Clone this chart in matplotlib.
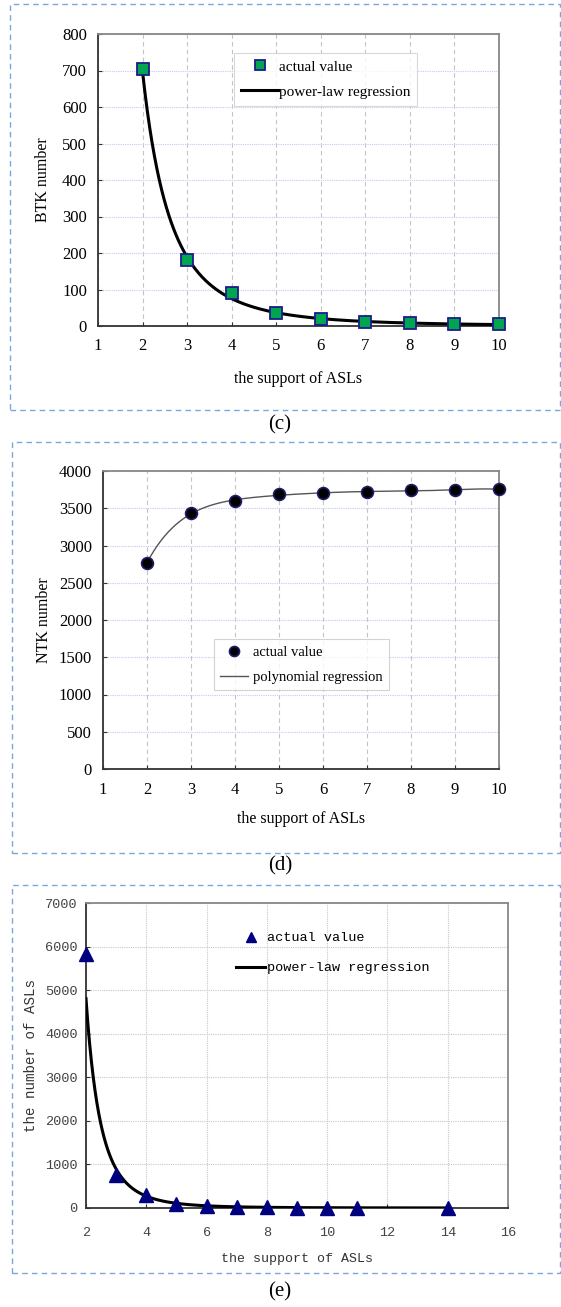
import numpy as np
import matplotlib
matplotlib.use("Agg")
import matplotlib.pyplot as plt
from matplotlib.patches import Rectangle

# (c) BTK number vs support
support_c = [2, 3, 4, 5, 6, 7, 8, 9, 10]
btk = [705, 180, 90, 35, 20, 10, 8, 5, 5]

# (d) NTK number vs support
support_d = [2, 3, 4, 5, 6, 7, 8, 9, 10]
ntk = [2770, 3430, 3600, 3690, 3700, 3720, 3740, 3745, 3755]

# (e) number of ASLs vs support
support_e = [2, 3, 4, 5, 6, 7, 8, 9, 10, 11, 14]
n_asls = [5820, 750, 300, 100, 50, 20, 15, 9, 7, 5, 1.5]

SERIF = "Liberation Serif"
MONO = "Liberation Mono"

fig = plt.figure(figsize=(5.61, 13.07), dpi=100)


def px_axes(left, top, right, bottom):
    W, H = 561, 1307
    return fig.add_axes([left / W, 1 - bottom / H, (right - left) / W, (bottom - top) / H])


def frame_box(left, top, right, bottom):
    W, H = 561, 1307
    fig.patches.append(Rectangle((left / W, 1 - bottom / H), (right - left) / W, (bottom - top) / H,
                                 transform=fig.transFigure, fill=False, ls=(0, (4, 3)),
                                 lw=1.0, ec="#7aa6e0"))


def style_axes(ax, font, size, hgrid_color, vgrid_color, vls, xpad, ypad):
    for s in ["left", "bottom"]:
        ax.spines[s].set_color("#333333")
        ax.spines[s].set_linewidth(1.3)
    for s in ["top", "right"]:
        ax.spines[s].set_color("#888888")
        ax.spines[s].set_linewidth(1.3)
    ax.tick_params(direction="in", length=3, width=0.8, color="#333333", labelsize=size)
    ax.tick_params(axis="x", pad=xpad)
    ax.tick_params(axis="y", pad=ypad)
    for lab in ax.get_xticklabels() + ax.get_yticklabels():
        lab.set_fontfamily(font)
    ax.xaxis.grid(True, color=vgrid_color, ls=vls, lw=0.8)
    ax.yaxis.grid(True, color=hgrid_color, ls=(0, (1, 1)), lw=0.8)
    ax.set_axisbelow(True)


def power_fit(x, y):
    b, a = np.polyfit(np.log(x), np.log(y), 1)
    return lambda t: np.exp(a) * t ** b


# ---- (c)
frame_box(10, 4, 560, 410)
ax = px_axes(98, 34, 499, 326)
xs = np.linspace(2, 10, 300)
fc = power_fit(support_c, btk)
ax.plot(xs, fc(xs), color="black", lw=2.2, label="power-law regression", zorder=3)
ax.plot(support_c, btk, ls="none", marker="s", ms=8, mfc="#00a550", mec="#1c1c8a",
        mew=1.3, label="actual value", zorder=4, clip_on=False)
ax.set_xlim(1, 10)
ax.set_ylim(0, 800)
ax.set_xticks(range(1, 11))
ax.set_yticks(range(0, 801, 100))
style_axes(ax, SERIF, 12, "#c8c8f0", "#c4c4c4", (0, (4, 3)), 9, 8)
ax.set_xlabel("the support of ASLs", fontfamily=SERIF, fontsize=11.5, labelpad=12)
ax.set_ylabel("BTK number", fontfamily=SERIF, fontsize=11.5, labelpad=8)
h, l = ax.get_legend_handles_labels()
leg = ax.legend(h[::-1], l[::-1], loc="upper left", bbox_to_anchor=(0.34, 0.935),
                prop={"family": SERIF, "size": 11}, frameon=True, fancybox=False,
                edgecolor="#d0d0d0", handlelength=2.4, handletextpad=0.05, borderpad=0.45,
                labelspacing=0.75, borderaxespad=0, markerscale=0.85)
leg.get_frame().set_linewidth(0.8)
fig.text(280 / 561, 1 - 425 / 1307, "(c)", ha="center", va="center", fontfamily=SERIF, fontsize=15)

# ---- (d)
frame_box(12, 442, 560, 853)
ax = px_axes(103, 471, 499, 769)
coef = np.polyfit(support_d, ntk, 6)
ax.plot(xs, np.polyval(coef, xs), color="#555555", lw=1.0, label="polynomial regression", zorder=3)
ax.plot(support_d, ntk, ls="none", marker="o", ms=8.5, mfc="black", mec="#1c1c6a",
        mew=1.2, label="actual value", zorder=4, clip_on=False)
ax.set_xlim(1, 10)
ax.set_ylim(0, 4000)
ax.set_xticks(range(1, 11))
ax.set_yticks(range(0, 4001, 500))
style_axes(ax, SERIF, 12, "#c8c8f0", "#c4c4c4", (0, (4, 3)), 9, 8)
ax.set_xlabel("the support of ASLs", fontfamily=SERIF, fontsize=11.5, labelpad=10)
ax.set_ylabel("NTK number", fontfamily=SERIF, fontsize=11.5, labelpad=5)
h, l = ax.get_legend_handles_labels()
leg = ax.legend(h[::-1], l[::-1], loc="upper left", bbox_to_anchor=(0.28, 0.436),
                prop={"family": SERIF, "size": 10.5}, frameon=True, fancybox=False,
                edgecolor="#c8c8c8", handlelength=1.9, handletextpad=0.3, borderpad=0.45,
                labelspacing=0.8, borderaxespad=0, markerscale=0.85)
leg.get_frame().set_linewidth(0.8)
fig.text(280 / 561, 1 - 866 / 1307, "(d)", ha="center", va="center", fontfamily=SERIF, fontsize=15)

# ---- (e)
frame_box(12, 885, 560, 1273)
ax = px_axes(86, 903, 508, 1208)
xe = np.linspace(2, 14, 400)
fe = power_fit(support_e, n_asls)
ax.plot(xe, fe(xe), color="black", lw=2.2, label="power-law regression", zorder=3)
ax.plot(support_e, n_asls, ls="none", marker="^", ms=10.5, mfc="#000080", mec="#000080",
        label="actual value", zorder=4, clip_on=False)
ax.set_xlim(2, 16)
ax.set_ylim(0, 7000)
ax.set_xticks(range(2, 17, 2))
ax.set_yticks(range(0, 7001, 1000))
style_axes(ax, MONO, 9.7, "#c8c8c8", "#c8c8c8", (0, (1, 1)), 14, 6)
for lab in ax.get_xticklabels() + ax.get_yticklabels():
    lab.set_color("#444444")
ax.set_xlabel("the support of ASLs", fontfamily=MONO, fontsize=9.5, color="#333333", labelpad=10)
ax.set_ylabel("the number of ASLs", fontfamily=MONO, fontsize=10.2, color="#333333", labelpad=5)
h, l = ax.get_legend_handles_labels()
leg = ax.legend(h[::-1], l[::-1], loc="upper left", bbox_to_anchor=(0.355, 0.905),
                prop={"family": MONO, "size": 9.7}, frameon=False, borderpad=0, borderaxespad=0,
                handlelength=2.2, handletextpad=0.1, labelspacing=1.3, markerscale=0.7)
fig.text(280 / 561, 1 - 1292 / 1307, "(e)", ha="center", va="center", fontfamily=SERIF, fontsize=15)

fig.savefig("out.png", dpi=100)
